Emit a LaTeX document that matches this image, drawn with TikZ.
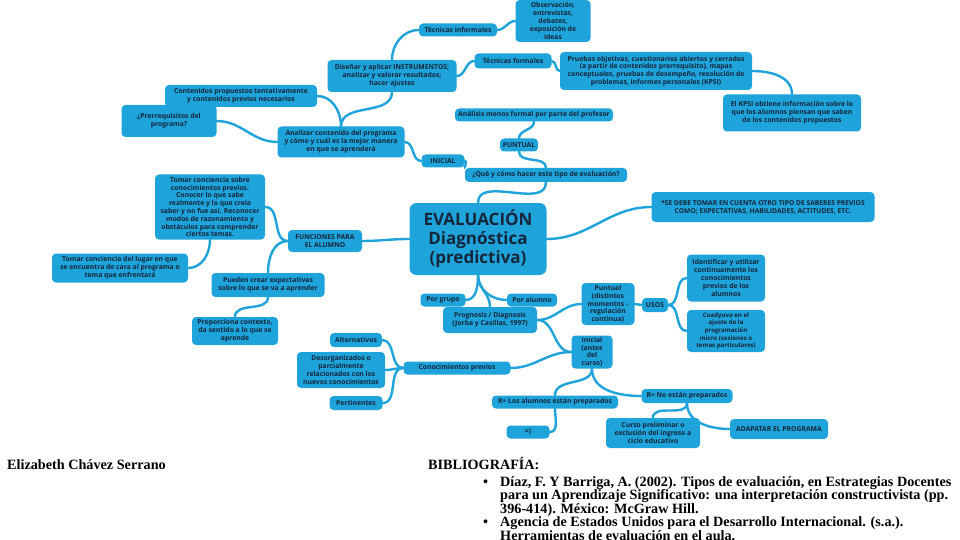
\documentclass[tikz,border=0pt]{standalone}
\usepackage{fontspec}
\setsansfont{Open Sans}
\newfontfamily\bibfont{Liberation Serif}
\definecolor{mapblue}{RGB}{30,163,218}
\definecolor{mapink}{RGB}{22,38,58}
\tikzset{
  topic/.style={fill=mapblue,text=mapink,rounded corners=4pt,align=center,inner sep=1pt,
    font=\sffamily\bfseries\fontsize{6.8}{7.8}\selectfont},
  branch/.style={draw=mapblue,line width=2.4pt,line cap=round},
  bib/.style={anchor=base west,inner sep=0pt,text=black,
    font=\bibfont\bfseries\fontsize{14.2}{14.5}\selectfont}
}
\begin{document}
\begin{tikzpicture}[x=1pt,y=1pt]
\path[use as bounding box,fill=white] (0,0) rectangle (960,-540);
% centre
\node[topic,rounded corners=7pt,minimum width=137pt,minimum height=72pt,
  font=\sffamily\bfseries\fontsize{17}{19}\selectfont] (Ev) at (478,-239) {EVALUACIÓN\\Diagnóstica\\(predictiva)};
% upper branch
\node[topic,minimum width=129pt,minimum height=32pt] (Dis) at (392,-76) {Diseñar y aplicar INSTRUMENTOS;\\analizar y valorar resultados;\\hacer ajustes};
\node[topic,minimum width=78pt,minimum height=13pt] (Tinf) at (458,-30) {Técnicas informales};
\node[topic,minimum width=75pt,minimum height=42pt] (Obs) at (553,-21) {Observación,\\entrevistas,\\debates,\\exposición de\\ideas};
\node[topic,minimum width=77pt,minimum height=15pt] (Tfor) at (513,-61) {Técnicas formales};
\node[topic,minimum width=192pt,minimum height=38pt] (Prb) at (656,-71) {Pruebas objetivas, cuestionarios abiertos y cerrados\\(a partir de contenidos prerrequisito), mapas\\conceptuales, pruebas de desempeño, resolución de\\problemas, informes personales (KPSI)};
\node[topic,minimum width=138pt,minimum height=37pt] (Kpsi) at (792,-113) {El KPSI obtiene información sobre lo\\que los alumnos piensan que saben\\de los contenidos propuestos};
\node[topic,minimum width=152pt,minimum height=22pt] (Cont) at (241,-96) {Contenidos propuestos tentativamente\\y contenidos previos necesarios};
\node[topic,minimum width=95pt,minimum height=32pt] (Pre) at (169,-121) {¿Prerrequisitos del\\programa?};
\node[topic,minimum width=127pt,minimum height=31pt] (Ana) at (341,-142) {Analizar contenido del programa\\y cómo y cuál es la mejor manera\\en que se aprenderá};
\node[topic,minimum width=158pt,minimum height=13pt] (Amf) at (534,-115) {Análisis menos formal por parte del profesor};
\node[topic,minimum width=38pt,minimum height=13pt] (Pun) at (519,-145) {PUNTUAL};
\node[topic,minimum width=43pt,minimum height=13pt] (Ini) at (443,-161) {INICIAL};
\node[topic,minimum width=162pt,minimum height=14pt] (Qc) at (546,-175) {¿Qué y cómo hacer este tipo de evaluación?};
% left branch
\node[topic,minimum width=74pt,minimum height=22pt] (Fun) at (325,-241) {FUNCIONES PARA\\EL ALUMNO};
\node[topic,minimum width=110pt,minimum height=65pt] (Tc) at (210,-207) {Tomar conciencia sobre\\conocimientos previos.\\Conocer lo que sabe\\realmente y lo que creía\\saber y no fue así. Reconocer\\modos de razonamiento y\\obstáculos para comprender\\ciertos temas.};
\node[topic,minimum width=136pt,minimum height=29pt] (Lug) at (120,-268) {Tomar conciencia del lugar en que\\se encuentra de cara al programa o\\tema que enfrentará};
\node[topic,minimum width=113pt,minimum height=24pt] (Exp) at (268,-285) {Pueden crear expectativas\\sobre lo que se va a aprender};
\node[topic,minimum width=86pt,minimum height=28pt] (Ctx) at (235,-331) {Proporciona contexto,\\da sentido a lo que se\\aprende};
% right note
\node[topic,minimum width=223pt,minimum height=30pt,
  font=\sffamily\bfseries\fontsize{6.7}{8}\selectfont] (Sab) at (763,-207) {*SE DEBE TOMAR EN CUENTA OTRO TIPO DE SABERES PREVIOS\\COMO; EXPECTATIVAS, HABILIDADES, ACTITUDES, ETC.};
% lower branch
\node[topic,minimum width=45pt,minimum height=13pt] (Pg) at (443,-300) {Por grupo};
\node[topic,minimum width=50pt,minimum height=13pt] (Pa) at (532,-300) {Por alumno};
\node[topic,minimum width=94pt,minimum height=26pt] (Prog) at (490,-320) {Prognosis / Diagnosis\\(Jorba y Casillas, 1997)};
\node[topic,minimum width=53pt,minimum height=42pt] (Pun2) at (608,-304) {Puntual\\(distintos\\momentos -\\regulación\\continua)};
\node[topic,minimum width=26pt,minimum height=14pt] (Usos) at (655,-305) {USOS};
\node[topic,minimum width=78pt,minimum height=47pt] (Idt) at (726,-278) {Identificar y utilizar\\continuamente los\\conocimientos\\previos de los\\alumnos};
\node[topic,minimum width=78pt,minimum height=42pt,
  font=\sffamily\bfseries\fontsize{6.1}{7.6}\selectfont] (Coa) at (726,-331) {Coadyuva en el\\ajuste de la\\programación\\micro (sesiones o\\temas particulares)};
\node[topic,minimum width=41pt,minimum height=33pt] (Ini2) at (592,-352) {Inicial\\(antes\\del\\curso)};
\node[topic,minimum width=107pt,minimum height=13pt] (Cp) at (457,-368) {Conocimientos previos};
\node[topic,minimum width=52pt,minimum height=14pt] (Alt) at (356,-340) {Alternativos};
\node[topic,minimum width=88pt,minimum height=36pt] (Des) at (341,-370) {Desorganizados o\\parcialmente\\relacionados con los\\nuevos conocimientos};
\node[topic,minimum width=53pt,minimum height=14pt] (Per) at (356,-403) {Pertinentes};
\node[topic,minimum width=126pt,minimum height=13pt] (Si) at (555,-402) {R= Los alumnos están preparados};
\node[topic,minimum width=91pt,minimum height=14pt] (No) at (687,-396) {R= No están preparados};
\node[topic,minimum width=43pt,minimum height=13pt] (Ok) at (528,-432) {=)};
\node[topic,minimum width=94pt,minimum height=30pt] (Cur) at (653,-433) {Curso preliminar o\\exclusión del ingreso a\\ciclo educativo};
\node[topic,minimum width=98pt,minimum height=20pt] (Adp) at (779,-429) {ADAPATAR EL PROGRAMA};
% branches
\draw[branch] (Ev.north) to[out=90,in=-90] (Qc.south);
\draw[branch] (Qc.north) to[out=90,in=-90] (Pun.south);
\draw[branch] (Pun.north) to[out=90,in=-90] (Amf.south);
\draw[branch] (Ini.east) to[out=0,in=90] (Qc.north west);
\draw[branch] (Ini.west) to[out=180,in=0] (Ana.east);
\draw[branch] (Ana.north) to[out=90,in=-90] (Dis.south);
\draw[branch] (Ana.north) to[out=90,in=0] (Cont.east);
\draw[branch] (Ana.west) to[out=180,in=0] (Pre.east);
\draw[branch] (Dis.north) to[out=90,in=180] (Tinf.west);
\draw[branch] (Tinf.east) to[out=0,in=180] (Obs.west);
\draw[branch] (Dis.east) to[out=0,in=180] (Tfor.west);
\draw[branch] (Tfor.east) to[out=0,in=180] (Prb.west);
\draw[branch] (Prb.east) to[out=0,in=90] (Kpsi.north);
\draw[branch] (Ev.west) to[out=180,in=0] (Fun.east);
\draw[branch] (Fun.west) to[out=180,in=0] (Tc.east);
\draw[branch] (Tc.south) to[out=-90,in=0] (Lug.east);
\draw[branch] (Fun.west) to[out=180,in=90] (Exp.north);
\draw[branch] (Exp.south) to[out=-90,in=90] (Ctx.north);
\draw[branch] (Ev.east) to[out=0,in=180] (Sab.west);
\draw[branch] (Ev.south) to[out=-90,in=0] (Pg.east);
\draw[branch] (Ev.south) to[out=-90,in=90] (Prog.north);
\draw[branch] (Ev.south) to[out=-90,in=180] (Pa.west);
\draw[branch] (Prog.east) to[out=0,in=180] (Pun2.west);
\draw[branch] (Prog.east) to[out=0,in=180] (Ini2.west);
\draw[branch] (Pun2.east) to[out=0,in=180] (Usos.west);
\draw[branch] (Usos.east) to[out=0,in=180] (Idt.west);
\draw[branch] (Usos.east) to[out=0,in=180] (Coa.west);
\draw[branch] (Ini2.west) to[out=180,in=0] (Cp.east);
\draw[branch] (Cp.west) to[out=180,in=0] (Alt.east);
\draw[branch] (Cp.west) to[out=180,in=0] (Des.east);
\draw[branch] (Cp.west) to[out=180,in=0] (Per.east);
\draw[branch] (Ini2.south) to[out=-90,in=90] (Si.north);
\draw[branch] (Ini2.south) to[out=-90,in=180] (No.west);
\draw[branch] (Si.south) to[out=-90,in=0] (Ok.east);
\draw[branch] (No.south) to[out=-90,in=90] (Cur.north);
\draw[branch] (No.south) to[out=-90,in=180] (Adp.west);
% footer
\node[bib] (Au) at (7,-469) {Elizabeth Chávez Serrano};
\node[bib] (Bib) at (428,-469) {BIBLIOGRAFÍA:};
\node[bib] (Bu1) at (483,-486) {•};
\node[bib] (R1a) at (500,-486) {Díaz, F. Y Barriga, A. (2002). Tipos de evaluación, en Estrategias Docentes};
\node[bib] (R1b) at (500,-499.5) {para un Aprendizaje Significativo: una interpretación constructivista (pp.};
\node[bib] (R1c) at (500,-513) {396-414). México: McGraw Hill.};
\node[bib] (Bu2) at (483,-526.5) {•};
\node[bib] (R2a) at (500,-526.5) {Agencia de Estados Unidos para el Desarrollo Internacional. (s.a.).};
\node[bib] (R2b) at (500,-540.5) {Herramientas de evaluación en el aula.};
\end{tikzpicture}
\end{document}
